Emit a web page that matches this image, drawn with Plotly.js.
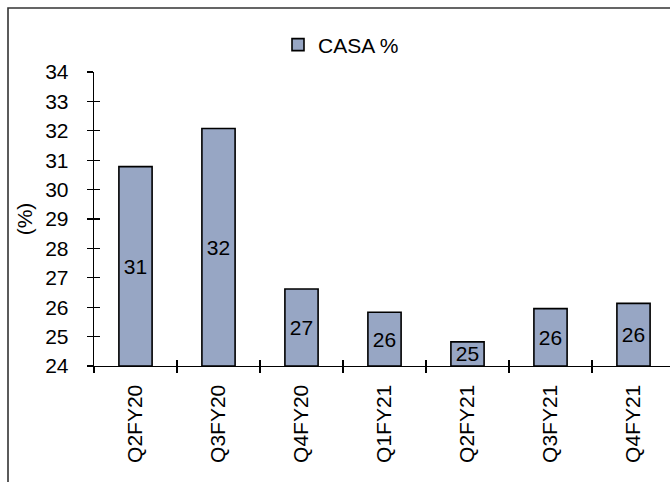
<!DOCTYPE html>
<html>
<head>
<meta charset="utf-8">
<script src="https://cdn.plot.ly/plotly-3.0.1.min.js"></script>
<style>html,body{margin:0;padding:0;background:#fff;}#chart{width:670px;height:482px;}</style>
</head>
<body>
<div id="chart"></div>
<script>
const categories = ["Q2FY20", "Q3FY20", "Q4FY20", "Q1FY21", "Q2FY21", "Q3FY21", "Q4FY21"];
const casaValues = [30.78, 32.08, 26.62, 25.83, 24.82, 25.95, 26.13];
const seriesName = "CASA %";
const axisMin = 24;
const axisMax = 34;
const yTickVals = [24, 25, 26, 27, 28, 29, 30, 31, 32, 33, 34];

const FONT = "Liberation Sans, Arial, sans-serif";
const FS = 21;
const W = 670, H = 482;
const L = 94, T = 72, B = 116, R = 0;
const plotW = W - L - R, plotH = H - T - B;
const catPx = 83;
const xMax = -0.5 + plotW / catPx;

const barTrace = {
  type: "bar",
  name: seriesName,
  x: categories,
  base: axisMin,
  y: casaValues.map(v => v - axisMin),
  text: casaValues.map(v => String(Math.round(v))),
  textposition: "inside",
  insidetextanchor: "middle",
  constraintext: "none",
  textangle: 0,
  textfont: {family: FONT, size: FS, color: "#000"},
  marker: {color: "#97A6C4", line: {color: "#000", width: 1.6}},
  hoverinfo: "x+text"
};

// same series on overlay axes, invisible: carries the inner half of the crossing ticks
const tickTrace = {
  type: "bar",
  x: categories,
  base: axisMin,
  y: casaValues.map(v => v - axisMin),
  xaxis: "x2", yaxis: "y2",
  marker: {color: "rgba(0,0,0,0)", line: {width: 0}},
  showlegend: false, hoverinfo: "skip"
};

const layout = {
  width: W, height: H,
  margin: {l: L, r: R, t: T, b: B, pad: 0},
  paper_bgcolor: "#fff", plot_bgcolor: "#fff",
  font: {family: FONT, size: FS, color: "#000"},
  bargap: 0.6,
  showlegend: true,
  legend: {
    orientation: "h", x: (278 - L) / plotW, xanchor: "left", y: (H - B - 45) / plotH, yanchor: "middle",
    font: {family: FONT, size: FS, color: "#000"},
    bgcolor: "rgba(0,0,0,0)", itemwidth: 30
  },
  xaxis: {
    type: "category", categoryarray: categories, range: [-0.5, xMax],
    showline: true, linecolor: "#000", linewidth: 1.3,
    ticks: "outside", ticklen: 6, tickwidth: 1.3, tickcolor: "#000",
    tickson: "boundaries", tickangle: -90, ticklabelstandoff: 9,
    tickfont: {family: FONT, size: FS, color: "#000"},
    showgrid: false, zeroline: false, fixedrange: true
  },
  yaxis: {
    range: [axisMin, axisMax], tickvals: yTickVals,
    showline: true, linecolor: "#000", linewidth: 1.3,
    ticks: "outside", ticklen: 6, tickwidth: 1.3, tickcolor: "#000",
    ticklabelstandoff: 14,
    tickfont: {family: FONT, size: FS, color: "#000"},
    title: {text: "(%)", font: {family: FONT, size: FS, color: "#000"}, standoff: 6},
    showgrid: false, zeroline: false, fixedrange: true
  },
  xaxis2: {
    type: "category", categoryarray: categories,
    overlaying: "x", anchor: "y", side: "bottom", range: [-0.5, xMax],
    tickson: "boundaries", ticks: "inside", ticklen: 6, tickwidth: 1.3, tickcolor: "#000",
    showticklabels: false, showline: false, showgrid: false, zeroline: false, fixedrange: true
  },
  yaxis2: {
    overlaying: "y", anchor: "x", side: "left", range: [axisMin, axisMax],
    tickvals: yTickVals, ticks: "inside", ticklen: 6, tickwidth: 1.3, tickcolor: "#000",
    showticklabels: false, showline: false, showgrid: false, zeroline: false, fixedrange: true
  },
  shapes: [{
    type: "rect", xref: "paper", yref: "paper", layer: "below",
    x0: (8 - L) / plotW, x1: 1.1, y0: -0.6, y1: (H - B - 8) / plotH,
    line: {color: "#333", width: 1.6}, fillcolor: "rgba(0,0,0,0)"
  }]
};

Plotly.newPlot("chart", [barTrace, tickTrace], layout, {displayModeBar: false, staticPlot: true});
</script>
</body>
</html>
